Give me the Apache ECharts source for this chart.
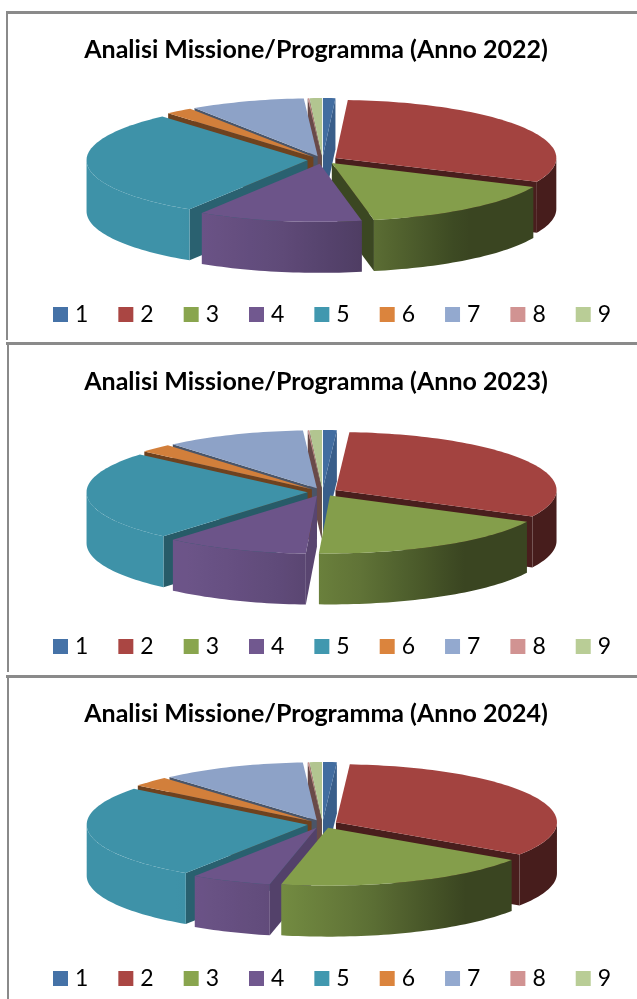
<!DOCTYPE html>
<html>
<head>
<meta charset="utf-8">
<title>Analisi Missione/Programma</title>
<script src="https://cdn.jsdelivr.net/npm/echarts@6/dist/echarts.min.js"></script>
<style>
html, body { margin: 0; padding: 0; background: #fff; }
#main { width: 637px; height: 999px; }
</style>
</head>
<body>
<div id="main"></div>
<script>
var categories = ['1', '2', '3', '4', '5', '6', '7', '8', '9'];
var years = ['2022', '2023', '2024'];
var values2022 = [0.9, 30.8, 15.2, 12.0, 29.6, 2.0, 8.4, 0.1, 0.9];
var values2023 = [1.0, 31.5, 18.3, 10.5, 25.0, 2.4, 10.3, 0.1, 0.9];
var values2024 = [1.0, 33.4, 19.0, 5.9, 26.3, 2.8, 10.6, 0.1, 0.9];
var colors = ['#4572A7', '#AA4643', '#89A54E', '#71588F', '#4198AF', '#DB843D', '#93A9CF', '#D19392', '#B9CD96'];

var yearValues = [values2022, values2023, values2024];
var yOffsets = [0, 332, 664];

// pie shape, same for the three charts
var cx = 322.5, cy = 160, rx = 221, ry = 58, depth = 51, explode = 15;

function shadeColor(hex, k) {
    var n = parseInt(hex.slice(1), 16);
    var r = Math.round((n >> 16 & 255) * k);
    var g = Math.round((n >> 8 & 255) * k);
    var b = Math.round((n & 255) * k);
    return 'rgb(' + r + ',' + g + ',' + b + ')';
}

// light comes from the left, the side walls get darker going right
var wallStops = [[0, 0.96], [0.2, 0.96], [0.4, 0.85], [0.58, 0.7], [0.8, 0.42], [1, 0.42]];
function wallShade(x) {
    var t = (x - (cx - rx - explode)) / (2 * (rx + explode));
    t = Math.max(0, Math.min(1, t));
    for (var i = 1; i < wallStops.length; i++) {
        if (t <= wallStops[i][0]) {
            var a = wallStops[i - 1], b = wallStops[i];
            return a[1] + (b[1] - a[1]) * (t - a[0]) / (b[0] - a[0]);
        }
    }
    return 0.42;
}

function wallGradient(hex, x0, x1) {
    var stops = [];
    for (var i = 0; i <= 10; i++) {
        stops.push({ offset: i / 10, color: shadeColor(hex, wallShade(x0 + (x1 - x0) * i / 10)) });
    }
    return new echarts.graphic.LinearGradient(x0, 0, x1, 0, stops, true);
}

function rad(deg) { return deg * Math.PI / 180; }

function renderSlice(start, end, hex, yOff) {
    var mid = (start + end) / 2;
    var ox = cx + explode * Math.sin(rad(mid));
    var oy = cy + yOff - explode * (ry / rx) * Math.cos(rad(mid));

    function pt(deg, down) {
        return [ox + rx * Math.sin(rad(deg)), oy - ry * Math.cos(rad(deg)) + (down ? depth : 0)];
    }
    function arc(a, b) {
        var pts = [], n = Math.max(2, Math.ceil(Math.abs(b - a) / 1.5));
        for (var i = 0; i <= n; i++) pts.push(a + (b - a) * i / n);
        return pts;
    }

    var children = [];

    // cut faces, only the ones turned towards the viewer
    if (Math.sin(rad(end)) > 0) {
        var endK = 0.43 + 0.42 * Math.max(0, (60 - end) / 60);
        children.push({
            type: 'polygon',
            shape: { points: [[ox, oy], pt(end), pt(end, true), [ox, oy + depth]] },
            style: { fill: shadeColor(hex, endK) }
        });
    }
    if (Math.sin(rad(start)) < 0) {
        var startK = 0.5 + 0.3 * Math.max(0, (240 - start) / 60);
        children.push({
            type: 'polygon',
            shape: { points: [[ox, oy], pt(start), pt(start, true), [ox, oy + depth]] },
            style: { fill: shadeColor(hex, startK) }
        });
    }

    // outer wall, front half of the ellipse
    var wa = Math.max(start, 90), wb = Math.min(end, 270);
    if (wb > wa) {
        var angles = arc(wa, wb);
        var upper = angles.map(function (d) { return pt(d); });
        var lower = angles.map(function (d) { return pt(d, true); }).reverse();
        var xs = upper.map(function (p) { return p[0]; });
        children.push({
            type: 'polygon',
            shape: { points: upper.concat(lower) },
            style: { fill: wallGradient(hex, Math.min.apply(null, xs), Math.max.apply(null, xs)) }
        });
    }

    // top surface
    var top = [[ox, oy]].concat(arc(start, end).map(function (d) { return pt(d); }));
    children.push({
        type: 'polygon',
        shape: { points: top },
        style: { fill: shadeColor(hex, 0.96) }
    });

    return { type: 'group', children: children };
}

// how far towards the viewer a slice reaches, -1 is the very front
function frontness(s) {
    if (s.start <= 180 && s.end >= 180) return -1;
    return Math.min(Math.cos(rad(s.start)), Math.cos(rad(s.end)));
}

var series = [], titles = [], legends = [];

years.forEach(function (year, y) {
    var vals = yearValues[y];
    var total = vals.reduce(function (a, b) { return a + b; }, 0);
    var yOff = yOffsets[y];
    var acc = 0;
    var slices = vals.map(function (v, i) {
        var s = { i: i, v: v, start: acc / total * 360 };
        acc += v;
        s.end = acc / total * 360;
        return s;
    });
    // back slices first
    slices.sort(function (a, b) { return frontness(b) - frontness(a); });

    slices.forEach(function (s) {
        series.push({
            type: 'custom',
            name: categories[s.i],
            coordinateSystem: 'none',
            itemStyle: { color: colors[s.i] },
            data: [[s.v]],
            animation: false,
            silent: true,
            renderItem: function () {
                return renderSlice(s.start, s.end, colors[s.i], yOff);
            }
        });
    });

    titles.push({
        text: 'Analisi Missione/Programma (Anno ' + year + ')',
        left: 311,
        top: 45 + yOff,
        textAlign: 'center',
        textVerticalAlign: 'middle',
        textStyle: { fontFamily: 'Lato', fontWeight: 'bold', fontSize: 25, color: '#000' }
    });
    legends.push({
        data: categories,
        left: 53,
        top: 303 + yOff,
        padding: 0,
        icon: 'rect',
        itemWidth: 15,
        itemHeight: 15,
        itemGap: 30,
        selectedMode: false,
        textStyle: { fontFamily: 'Lato', fontSize: 23, color: '#000', padding: [0, 0, 0, 2] }
    });
});

function frameLine(x, y, w, h) {
    return { type: 'rect', shape: { x: x, y: y, width: w, height: h }, style: { fill: '#8a8a8a' }, silent: true };
}

var option = {
    backgroundColor: '#fff',
    animation: false,
    title: titles,
    legend: legends,
    tooltip: { show: false },
    graphic: [
        frameLine(6, 11, 631, 3),
        frameLine(6, 11, 2, 329),
        frameLine(6, 342, 631, 3),
        frameLine(7, 342, 2, 330),
        frameLine(6, 675, 631, 3),
        frameLine(7, 675, 2, 324)
    ],
    series: series
};

var myChart = echarts.init(document.getElementById('main'));
myChart.setOption(option);
</script>
</body>
</html>
